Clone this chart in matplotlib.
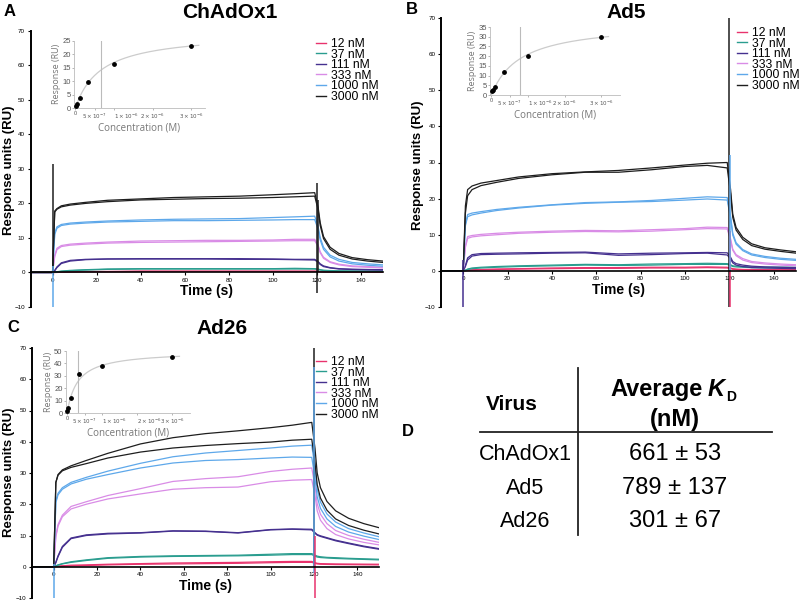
import matplotlib
matplotlib.use("Agg")
import matplotlib.pyplot as plt
import numpy as np

plt.rcParams["font.family"] = ["Liberation Sans", "DejaVu Sans"]

W, H = 800, 602

# sampled time grid shared by all sensorgram traces (s)
TIME = [-10, 0, 1, 2, 4, 8, 15, 25, 40, 55, 70, 85, 100, 110, 119,
        120.5, 121.5, 123, 126, 130, 136, 143, 150]

CONC_LABELS = ["12 nM", "37 nM", "111 nM", "333 nM", "1000 nM", "3000 nM"]
CONC_COLORS = ["#e8336d", "#2a9d8f", "#45308f", "#d98ce6", "#5ea8ea", "#1e1e1e"]
CONC_M = [12e-9, 37e-9, 111e-9, 333e-9, 1000e-9, 3000e-9]

# ChAdOx1 traces (two replicates per concentration)
a_12 = [[0, 0, 0.0, 0.1, 0.1, 0.2, 0.3, 0.3, 0.4, 0.4, 0.4, 0.4, 0.4, 0.4, 0.4, 0.34, 0.27, 0.21, 0.16, 0.13, 0.12, 0.11, 0.1],
        [0, 0, 0.0, 0.0, 0.1, 0.1, 0.2, 0.2, 0.3, 0.3, 0.3, 0.3, 0.3, 0.3, 0.3, 0.26, 0.21, 0.17, 0.14, 0.12, 0.11, 0.1, 0.1]]
a_37 = [[0, 0, 0.1, 0.2, 0.4, 0.6, 0.8, 1.0, 1.1, 1.1, 1.1, 1.1, 1.1, 1.2, 1.1, 1.0, 0.8, 0.65, 0.55, 0.48, 0.44, 0.41, 0.4],
        [0, 0, 0.1, 0.2, 0.3, 0.5, 0.7, 0.9, 1.0, 1.0, 1.0, 1.0, 1.0, 1.0, 1.0, 0.86, 0.7, 0.55, 0.44, 0.38, 0.34, 0.31, 0.3]]
a_111 = [[0, 0, 0.6, 1.6, 2.8, 3.5, 3.8, 3.9, 4.0, 4.0, 4.0, 4.0, 3.9, 3.8, 3.8, 3.2, 2.5, 1.9, 1.4, 1.1, 0.95, 0.86, 0.8],
         [0, 0, 0.5, 1.4, 2.6, 3.3, 3.7, 3.9, 3.9, 3.9, 3.9, 3.8, 3.8, 3.7, 3.6, 3.0, 2.3, 1.7, 1.3, 1.0, 0.85, 0.76, 0.7]]
a_333 = [[0, 0, 5.0, 7.0, 7.8, 8.2, 8.5, 8.8, 9.1, 9.2, 9.3, 9.3, 9.4, 9.6, 9.6, 8.0, 6.0, 4.4, 3.1, 2.4, 1.9, 1.7, 1.5],
         [0, 0, 4.6, 6.6, 7.5, 7.9, 8.2, 8.5, 8.7, 8.8, 8.9, 9.0, 9.1, 9.2, 9.2, 7.6, 5.7, 4.1, 2.9, 2.2, 1.7, 1.5, 1.3]]
a_1000 = [[0, 0, 11.5, 13.2, 13.9, 14.3, 14.6, 14.9, 15.2, 15.4, 15.5, 15.6, 15.9, 16.1, 16.3, 13.5, 10.1, 7.3, 5.0, 3.8, 2.9, 2.5, 2.2],
          [0, 0, 11.0, 12.8, 13.6, 14.0, 14.3, 14.6, 14.8, 15.0, 15.0, 15.1, 15.2, 15.3, 15.3, 12.6, 9.4, 6.7, 4.5, 3.3, 2.5, 2.1, 1.8]]
a_3000 = [[0, 0, 17.8, 18.5, 19.3, 19.8, 20.3, 20.9, 21.3, 21.7, 21.9, 22.1, 22.5, 22.8, 23.1, 19.1, 14.4, 10.4, 7.3, 5.5, 4.3, 3.7, 3.3],
          [0, 0, 17.5, 18.3, 19.0, 19.5, 20.0, 20.5, 21.0, 21.2, 21.4, 21.5, 21.7, 21.9, 22.1, 18.3, 13.6, 9.8, 6.7, 5.0, 3.9, 3.3, 2.9]]

# Ad5 traces
b_12 = [[0, 0, 0.1, 0.2, 0.3, 0.4, 0.5, 0.6, 0.8, 0.9, 0.9, 1.0, 1.0, 1.1, 1.0, 0.8, 0.6, 0.5, 0.4, 0.36, 0.33, 0.31, 0.3],
        [0, 0, 0.0, 0.1, 0.2, 0.3, 0.4, 0.5, 0.6, 0.7, 0.7, 0.8, 0.8, 0.9, 0.8, 0.6, 0.45, 0.36, 0.3, 0.25, 0.23, 0.21, 0.2]]
b_37 = [[0, 0, 0.2, 0.5, 0.8, 1.0, 1.2, 1.4, 1.6, 1.8, 1.7, 1.9, 2.0, 2.1, 2.0, 1.7, 1.4, 1.3, 1.2, 1.1, 1.05, 1.02, 1.0],
        [0, 0, 0.1, 0.4, 0.6, 0.8, 1.0, 1.2, 1.4, 1.6, 1.5, 1.6, 1.8, 1.8, 1.8, 1.5, 1.2, 1.1, 1.0, 0.9, 0.85, 0.82, 0.8]]
b_111 = [[0, 0, 1.5, 3.6, 4.5, 4.8, 4.9, 5.0, 5.1, 5.2, 4.7, 4.9, 5.0, 5.1, 5.0, 3.8, 2.6, 2.0, 1.6, 1.3, 1.1, 1.0, 0.9],
         [0, 0, 1.2, 3.0, 4.1, 4.5, 4.6, 4.7, 4.9, 5.0, 4.3, 4.5, 4.8, 4.9, 4.4, 3.3, 2.2, 1.6, 1.2, 0.9, 0.8, 0.7, 0.6]]
b_333 = [[0, 0, 7.0, 9.5, 9.8, 10.1, 10.4, 10.7, 11.0, 11.2, 11.1, 11.4, 11.7, 12.1, 12.0, 8.9, 6.0, 4.5, 3.4, 2.6, 2.2, 1.9, 1.7],
         [0, 0, 6.5, 9.0, 9.4, 9.7, 10.0, 10.4, 10.7, 10.9, 10.8, 11.0, 11.4, 11.7, 11.6, 8.5, 5.7, 4.2, 3.0, 2.3, 1.9, 1.6, 1.4]]
b_1000 = [[0, 0, 13.0, 15.6, 16.0, 16.4, 17.0, 17.6, 18.3, 18.9, 19.1, 19.5, 20.1, 20.5, 20.3, 15.2, 10.4, 7.8, 5.9, 4.7, 4.0, 3.5, 3.2],
          [0, 0, 12.5, 15.0, 15.5, 16.0, 16.7, 17.4, 18.2, 18.7, 19.0, 19.2, 19.6, 19.9, 19.6, 14.6, 9.9, 7.4, 5.6, 4.4, 3.7, 3.2, 2.9]]
b_3000 = [[0, 0, 18.0, 22.5, 23.5, 24.3, 25.0, 26.0, 26.9, 27.4, 27.8, 28.5, 29.3, 29.8, 30.0, 22.6, 15.7, 12.0, 9.3, 7.5, 6.4, 5.8, 5.3],
          [0, 0, 16.0, 20.8, 22.5, 23.6, 24.5, 25.6, 26.6, 27.3, 27.3, 28.0, 28.9, 29.2, 28.5, 21.4, 14.8, 11.3, 8.7, 7.0, 6.0, 5.4, 4.9]]

# Ad26 traces
c_12 = [[0, 0, 0.1, 0.2, 0.3, 0.5, 0.6, 0.8, 1.0, 1.2, 1.3, 1.4, 1.6, 1.7, 1.7, 1.3, 1.1, 1.0, 0.95, 0.9, 0.87, 0.83, 0.8],
        [0, 0, 0.0, 0.1, 0.2, 0.3, 0.4, 0.6, 0.8, 0.9, 1.0, 1.1, 1.3, 1.4, 1.4, 1.1, 0.9, 0.8, 0.75, 0.7, 0.67, 0.63, 0.6]]
c_37 = [[0, 0, 0.3, 0.6, 1.0, 1.6, 2.2, 2.9, 3.3, 3.5, 3.6, 3.7, 4.0, 4.2, 4.2, 3.7, 3.4, 3.2, 3.0, 2.9, 2.7, 2.55, 2.4],
        [0, 0, 0.2, 0.5, 0.9, 1.4, 2.0, 2.7, 3.1, 3.3, 3.4, 3.5, 3.7, 3.9, 3.9, 3.4, 3.1, 2.95, 2.8, 2.65, 2.5, 2.35, 2.2]]
c_111 = [[0, 0, 1.5, 3.5, 6.5, 9.2, 10.2, 10.7, 10.9, 11.5, 11.4, 10.9, 11.9, 12.1, 12.0, 10.9, 10.3, 9.9, 9.3, 8.5, 7.6, 6.6, 5.8],
         [0, 0, 1.3, 3.2, 6.2, 9.0, 10.0, 10.5, 10.8, 11.4, 11.3, 10.8, 11.8, 12.0, 11.8, 10.7, 10.1, 9.7, 9.1, 8.3, 7.4, 6.4, 5.6]]
c_333 = [[0, 0, 10.0, 13.5, 16.5, 19.3, 20.8, 22.8, 25.0, 27.3, 28.2, 28.8, 30.5, 31.2, 31.6, 25.7, 20.2, 16.8, 13.8, 11.6, 10.0, 8.8, 7.8],
         [0, 0, 9.5, 13.0, 16.0, 18.5, 20.0, 21.7, 23.3, 24.8, 25.3, 25.5, 27.2, 27.7, 27.9, 22.7, 17.9, 14.9, 12.2, 10.3, 8.9, 7.8, 7.0]]
c_1000 = [[0, 0, 21.0, 23.5, 25.3, 27.0, 28.6, 30.6, 33.1, 35.2, 36.4, 37.2, 38.0, 38.6, 38.9, 31.6, 24.8, 20.7, 16.9, 14.3, 12.2, 10.8, 9.6],
          [0, 0, 20.5, 23.0, 24.8, 26.5, 28.0, 29.5, 31.6, 33.2, 34.0, 34.3, 34.8, 35.1, 35.0, 28.4, 22.4, 18.7, 15.3, 12.9, 11.1, 9.8, 8.7]]
c_3000 = [[0, 0, 27.0, 29.5, 31.0, 32.3, 34.0, 36.3, 39.3, 41.3, 42.6, 43.5, 44.5, 45.3, 46.2, 37.8, 30.0, 25.3, 20.9, 17.9, 15.5, 13.8, 12.5],
          [0, 0, 27.0, 29.3, 30.7, 31.8, 33.0, 34.8, 36.7, 38.0, 38.8, 39.4, 39.9, 40.5, 40.8, 33.2, 26.3, 22.0, 18.1, 15.3, 13.2, 11.7, 10.5]]

# injection artefacts: (time, low, high, color index)
a_spikes = [(0.3, 0, 31.5, 5), (0.1, -10, 2, 4), (120, -6, 26, 5), (120.3, 0, 21, 5)]
b_spikes = [(0.0, -10, 3, 2), (120, -10, 70, 5), (120.2, -10, 11, 0), (120.1, 0, 32, 4)]
c_spikes = [(0.0, -10, 1, 4), (120, 0, 70, 5), (120.2, -2, 64, 4), (120.3, -10, 10, 0)]

# steady-state responses for insets (RU) and fitted parameters
a_resp = [0.7, 1.35, 3.9, 9.7, 16.3, 23.0]
b_resp = [1.9, 2.8, 4.3, 11.6, 20.3, 29.7]
c_resp = [1.5, 4.3, 12.0, 31.5, 38.2, 45.5]
KD_NM = [661, 789, 301]
RMAX = [28.1, 37.5, 50.0]

# table D
VIRUS = ["ChAdOx1", "Ad5", "Ad26"]
KD_TEXT = ["661 \u00b1 53", "789 \u00b1 137", "301 \u00b1 67"]


def fx(x):
    return x / W


def fy(y):
    return 1 - y / H


def frect(x0, y0, x1, y1):
    # pixel box -> figure fraction rect
    return [x0 / W, 1 - y1 / H, (x1 - x0) / W, (y1 - y0) / H]


def draw_main(fig, rect, traces, spikes, title, title_xy, letter, letter_xy,
              leg_xy, ylab_xy):
    ax = fig.add_axes(frect(*rect))
    for ci, reps in enumerate(traces):
        for rep in reps:
            ax.plot(TIME, rep, color=CONC_COLORS[ci], lw=0.9)
    for t, lo, hi, ci in spikes:
        ax.vlines(t, lo, hi, color=CONC_COLORS[ci], lw=1.1)
    ax.set_xlim(-10, 150)
    ax.set_ylim(-10, 70)
    ax.spines[["top", "right"]].set_visible(False)
    ax.spines["bottom"].set_position(("data", 0))
    ax.spines["left"].set_linewidth(1.4)
    ax.spines["bottom"].set_linewidth(1.2)
    ax.set_xticks(range(0, 141, 20))
    ax.set_yticks(range(-10, 71, 10))
    ax.tick_params(labelsize=4.5, length=2.5, width=0.8, pad=1.5)
    ax.set_xlabel("Time (s)", fontsize=10, fontweight="bold", labelpad=1)
    fig.text(fx(ylab_xy[0]), fy(ylab_xy[1]), "Response units (RU)", fontsize=9.5,
             fontweight="bold", rotation=90, ha="center", va="center")
    handles = [plt.Line2D([], [], color=c, lw=1.0) for c in CONC_COLORS]
    fig.legend(handles, CONC_LABELS, loc="upper left",
               bbox_to_anchor=(fx(leg_xy[0]), fy(leg_xy[1])),
               frameon=False, fontsize=8.7, handlelength=0.8, handletextpad=0.45,
               labelspacing=-0.12, borderpad=0, borderaxespad=0)
    fig.text(fx(title_xy[0]), fy(title_xy[1]), title, fontsize=15,
             fontweight="bold", ha="center", va="center")
    fig.text(fx(letter_xy[0]), fy(letter_xy[1]), letter, fontsize=12,
             fontweight="bold", ha="center", va="center")
    return ax


def draw_inset(fig, rect, resp, kd, rmax, xmax, ylim, yticks, left_labels=(2,)):
    ax = fig.add_axes(frect(*rect))
    conc = np.linspace(0, 3.2e-6, 200)
    ax.plot(conc, rmax * conc / (kd * 1e-9 + conc), color="#cccccc", lw=0.9)
    ax.axvline(kd * 1e-9, color="#bbbbbb", lw=0.8)
    ax.scatter(CONC_M, resp, s=6, color="black", zorder=3, clip_on=False)
    ax.set_xlim(-0.03e-6, xmax)
    ax.set_ylim(*ylim)
    ax.set_yticks(yticks)
    ax.set_xticks([0, 5e-7, 1e-6, 2e-6, 3e-6])
    labels = ax.set_xticklabels(["0", r"$5\times10^{-7}$", r"$1\times10^{-6}$",
                                 r"$2\times10^{-6}$", r"$3\times10^{-6}$"])
    # crowded labels sit to the right of their ticks, as in the original
    for i in left_labels:
        labels[i].set_horizontalalignment("left")
    ax.spines[["top", "right"]].set_visible(False)
    for s in ("left", "bottom"):
        ax.spines[s].set_color("#bbbbbb")
        ax.spines[s].set_linewidth(0.6)
    ax.tick_params(labelsize=4.0, length=1.5, width=0.5, pad=1,
                   colors="#999999", labelcolor="#555555")
    ax.tick_params(axis="y", labelsize=5.5)
    ax.set_xlabel("Concentration (M)", fontsize=7, color="#777777",
                  family="Open Sans", labelpad=1)
    ax.set_ylabel("Response (RU)", fontsize=6.5, color="#777777",
                  family="Open Sans", labelpad=1)
    return ax


fig = plt.figure(figsize=(8, 6.02), dpi=100)

draw_main(fig, (30.5, 30.7, 383, 307), [a_12, a_37, a_111, a_333, a_1000, a_3000],
          a_spikes, "ChAdOx1", (230, 12), "A", (10, 12), (316, 38), (9, 170))
draw_main(fig, (441, 18, 796, 307), [b_12, b_37, b_111, b_333, b_1000, b_3000],
          b_spikes, "Ad5", (626, 12), "B", (412, 9), (737, 27), (418, 165))
draw_main(fig, (32, 348, 379, 598), [c_12, c_37, c_111, c_333, c_1000, c_3000],
          c_spikes, "Ad26", (222, 328), "C", (13, 328), (316, 356), (9, 472))

draw_inset(fig, (74.2, 40.7, 204.6, 108), a_resp, KD_NM[0], RMAX[0], 3.35e-6, (0, 25), range(0, 26, 5))
draw_inset(fig, (490.3, 27, 619.5, 95), b_resp, KD_NM[1], RMAX[1], 3.5e-6, (0, 35), range(0, 36, 5))
draw_inset(fig, (66, 351, 190, 413), c_resp, KD_NM[2], RMAX[2], 3.5e-6, (0, 50), range(0, 51, 10),
           left_labels=(2, 3))

# panel D table
fig.text(fx(408), fy(432), "D", fontsize=12, fontweight="bold", ha="center", va="center")
fig.add_artist(plt.Line2D([fx(480), fx(772)], [fy(432), fy(432)], color="#222222", lw=1.3))
fig.add_artist(plt.Line2D([fx(578), fx(578)], [fy(368), fy(535)], color="#222222", lw=1.3))
fig.text(fx(512), fy(410), "Virus", fontsize=15, fontweight="bold", ha="center", va="baseline")
fig.text(fx(703), fy(396), "Average", fontsize=17, fontweight="bold", ha="right", va="baseline")
fig.text(fx(708), fy(396), "K", fontsize=17, fontweight="bold", style="italic", ha="left", va="baseline")
fig.text(fx(726), fy(401), "D", fontsize=10, fontweight="bold", ha="left", va="baseline")
fig.text(fx(675), fy(426), "(nM)", fontsize=17, fontweight="bold", ha="center", va="baseline")
for i, (name, kd) in enumerate(zip(VIRUS, KD_TEXT)):
    base = 460 + 33.5 * i
    fig.text(fx(525), fy(base), name, fontsize=15.5, ha="center", va="baseline")
    fig.text(fx(675), fy(base), kd, fontsize=17, ha="center", va="baseline")

fig.savefig("out.png", dpi=100)
